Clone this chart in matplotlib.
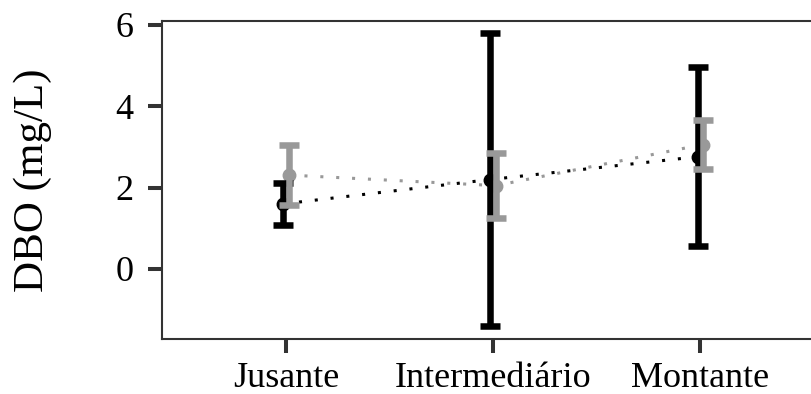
import matplotlib
matplotlib.use("Agg")
import matplotlib.pyplot as plt
import numpy as np

categories = ["Jusante", "Intermediário", "Montante"]
black_mean = [1.60, 2.20, 2.76]
black_err = [0.51, 3.60, 2.20]
gray_mean = [2.31, 2.05, 3.06]
gray_err = [0.74, 0.80, 0.60]
yticks = [0, 2, 4, 6]

plt.rcParams['font.family'] = ['Liberation Serif', 'DejaVu Serif']

fig = plt.figure(figsize=(8.12, 3.94), dpi=100)
ax = fig.add_axes([0.199, 0.1388, 0.8164, 0.8087])

x = np.arange(1, len(categories) + 1)
dodge = 0.013
xb = x - dodge
xg = x + dodge

black = "#000000"
gray = "#999999"

ax.plot(xb, black_mean, linestyle=(0, (1, 4.2)), color=black, lw=2.2, zorder=1)
ax.plot(xg, gray_mean, linestyle=(0, (1, 4.2)), color=gray, lw=2.2, zorder=1)
ax.plot(xb, black_mean, 'o', color=black, ms=9, zorder=2)
ax.plot(xg, gray_mean, 'o', color=gray, ms=9, zorder=2)
ax.errorbar(xb, black_mean, yerr=black_err, fmt='none', ecolor=black,
            elinewidth=4.7, capsize=7.5, capthick=4.7, zorder=3)
ax.errorbar(xg, gray_mean, yerr=gray_err, fmt='none', ecolor=gray,
            elinewidth=4.7, capsize=7.5, capthick=4.7, zorder=4)

ax.set_xlim(0.4, 3.6)
ax.set_ylim(-1.73, 6.106)
ax.set_xticks(x)
ax.set_xticklabels(categories)
ax.set_yticks(yticks)
ax.set_yticklabels([str(v) for v in yticks])

for s in ax.spines.values():
    s.set_color("#333333")
    s.set_linewidth(1.5)
ax.spines['right'].set_visible(False)

ax.tick_params(axis='both', length=10, width=2.9, color="#333333",
               labelsize=26, labelcolor="black")
ax.tick_params(axis='y', pad=10)
ax.tick_params(axis='x', pad=6)
ax.set_ylabel("DBO (mg/L)", fontsize=31, labelpad=46)

fig.savefig("out.png", dpi=100)
